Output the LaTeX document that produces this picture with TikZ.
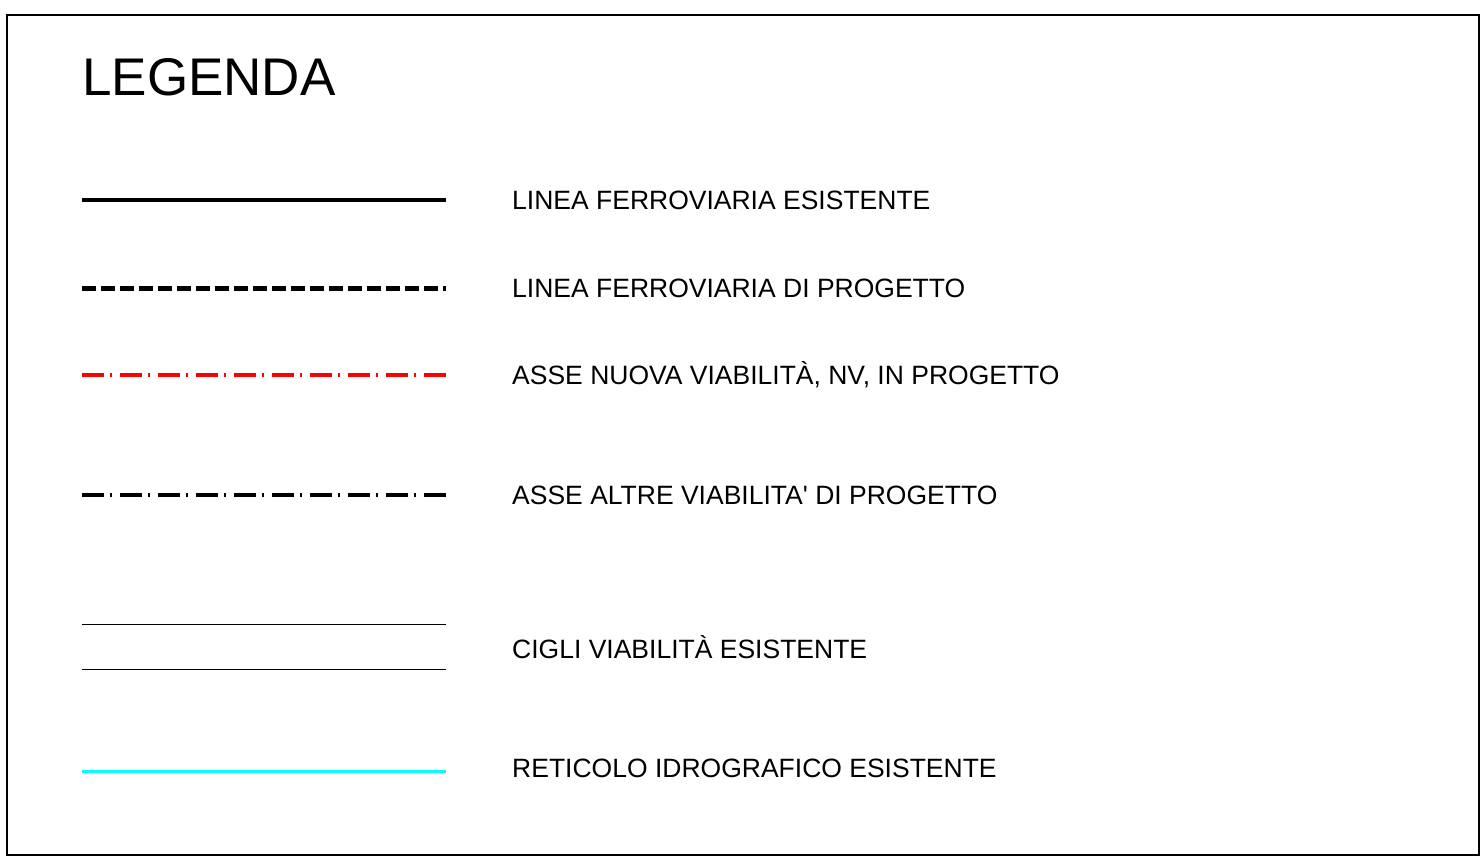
\documentclass[tikz,border=0pt]{standalone}
\usepackage{fontspec}
\setmainfont{Liberation Sans}
\usepackage{tikz}
\usetikzlibrary{positioning}
\definecolor{axisred}{RGB}{255,0,0}
\definecolor{watercyan}{RGB}{0,255,255}

\begin{document}
\begin{tikzpicture}[x=1pt,y=-1pt,
	legend_text/.style={anchor=west,inner sep=0pt,font=\fontsize{26.5}{30}\selectfont},
	rail_old/.style={line width=4pt},
	rail_new/.style={line width=5pt,dash pattern=on 14pt off 5pt},
	axis_nv/.style={line width=4pt,axisred,dash pattern=on 22pt off 6pt on 2pt off 8pt},
	axis_other/.style={line width=4pt,dash pattern=on 22pt off 6pt on 2pt off 8pt},
	road_edge/.style={line width=1pt},
	water/.style={line width=3pt,watercyan}]
	\useasboundingbox (0,0) rectangle (1482,861);
	\draw[line width=2pt] (7,15) rectangle (1479,855);
	\node[anchor=west,inner sep=0pt,font=\fontsize{53}{60}\selectfont] (title) at (82,77) {LEGENDA};
	
	\draw[rail_old] (82,200) -- (446,200);
	\node[legend_text] (l1) at (512,200) {LINEA FERROVIARIA ESISTENTE};
	\draw[rail_new] (82,288) -- (446,288);
	\node[legend_text] (l2) at (512,288) {LINEA FERROVIARIA DI PROGETTO};
	\draw[axis_nv] (82,375) -- (446,375);
	\node[legend_text] (l3) at (512,375) {ASSE NUOVA VIABILITÀ, NV, IN PROGETTO};
	\draw[axis_other] (82,495) -- (446,495);
	\node[legend_text] (l4) at (512,495) {ASSE ALTRE VIABILITA\textquotesingle\ DI PROGETTO};
	\draw[road_edge] (82,624) -- (446,624);
	\draw[road_edge] (82,669) -- (446,669);
	\node[legend_text] (l5) at (512,647) {CIGLI VIABILITÀ ESISTENTE};
	\draw[water] (82,771) -- (446,771);
	\node[legend_text] (l6) at (512,768) {RETICOLO IDROGRAFICO ESISTENTE};
\end{tikzpicture}
\end{document}
